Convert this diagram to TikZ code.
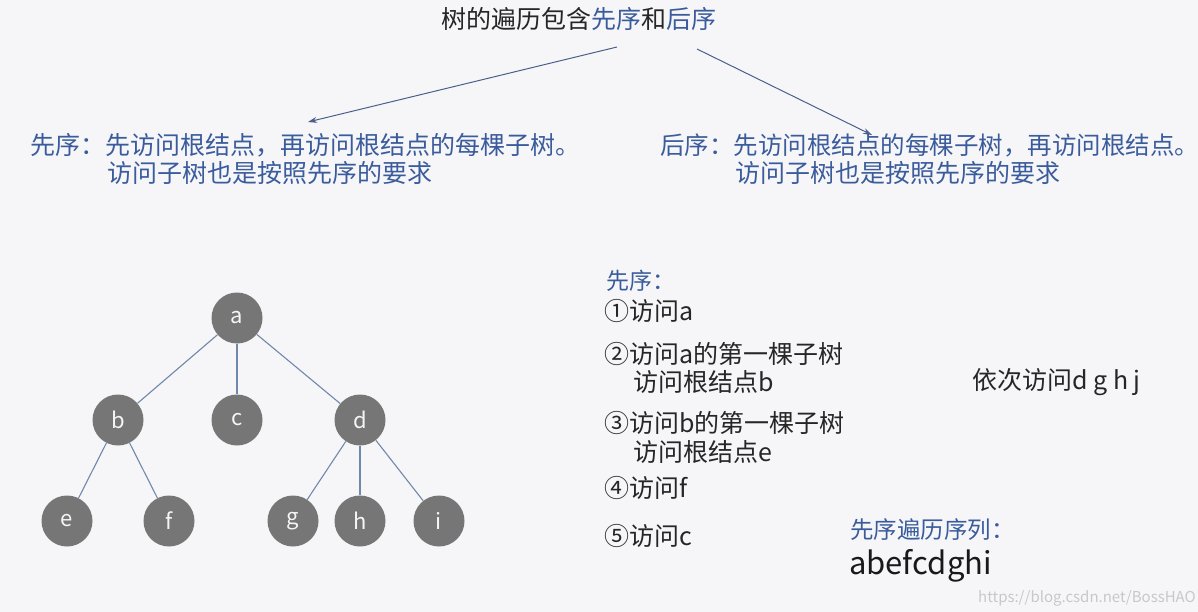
\documentclass[tikz,border=0pt]{standalone}
\usepackage{fontspec}
\setmainfont{Noto Sans CJK SC}
\usetikzlibrary{arrows.meta}
\definecolor{bg}{HTML}{F6F6F8}
\definecolor{tblue}{HTML}{3B5C9C}
\definecolor{arr}{HTML}{4A5F8C}
\definecolor{edge}{HTML}{7088AA}
\definecolor{nodegray}{HTML}{767676}
\definecolor{wm}{HTML}{C8C8CC}
\newcommand{\fs}[1]{\fontsize{#1}{#1}\selectfont}
\tikzset{
  txt/.style={anchor=west, inner sep=0pt, font=\fs{25}, text=black!85},
  bluetxt/.style={txt, text=tblue, font=\fs{25}},
  tnode/.style={circle, fill=nodegray, minimum size=51pt, inner sep=0pt, text=white!92!gray, font=\fs{22}},
  tedge/.style={draw=edge, line width=1.1pt},
  connector/.style={draw=arr, line width=1pt, -{Stealth[length=9pt,width=6pt]}}
}
\begin{document}
\begin{tikzpicture}[x=1pt,y=-1pt]
\fill[bg] (0,0) rectangle (1198,612);
\useasboundingbox (0,0) rectangle (1198,612);
% title
\node[txt, font=\fs{25}] (title) at (441,19) {树的遍历包含\textcolor{tblue}{先序}和\textcolor{tblue}{后序}};
\coordinate (t1) at (617,47);
\coordinate (t2) at (697,49);
\coordinate (l1) at (308,122);
\coordinate (r1) at (872,135);
\draw[connector] (t1) -- (l1);
\draw[connector] (t2) -- (r1);
% definitions
\node[bluetxt] (pre1) at (30,145) {先序：先访问根结点，再访问根结点的每棵子树。};
\node[bluetxt] (pre2) at (107,173) {访问子树也是按照先序的要求};
\node[bluetxt, font=\fs{24.5}] (post1) at (660,145) {后序：先访问根结点的每棵子树，再访问根结点。};
\node[bluetxt] (post2) at (735,173) {访问子树也是按照先序的要求};
% tree
\node[tnode] (a) at (237,318) {a};
\node[tnode] (b) at (118,420) {b};
\node[tnode] (c) at (237,420) {c};
\node[tnode] (d) at (360,420) {d};
\node[tnode] (e) at (67,521) {e};
\node[tnode] (f) at (169,521) {f};
\node[tnode] (g) at (293,521) {g};
\node[tnode] (h) at (360,521) {h};
\node[tnode] (i) at (439,521) {i};
\foreach \u/\v in {a/b,a/c,a/d,b/e,b/f,d/g,d/h,d/i}
  \draw[tedge] (\u) -- (\v);
% steps
\node[bluetxt, font=\fs{23}] (s0) at (606,281) {先序：};
\node[txt] (s1) at (604,311) {①访问a};
\node[txt] (s2) at (604,354) {②访问a的第一棵子树};
\node[txt] (s2b) at (633,382) {访问根结点b};
\node[txt] (s3) at (604,423) {③访问b的第一棵子树};
\node[txt] (s3b) at (633,452) {访问根结点e};
\node[txt] (s4) at (604,488) {④访问f};
\node[txt] (s5) at (604,536) {⑤访问c};
\node[txt] (seq) at (972,382) {依次访问d g h j};
\node[bluetxt, font=\fs{23.5}] (res) at (850,530) {先序遍历序列：};
\node[txt, font=\fs{31}, text=black!90] (ans) at (849,566) {abefcdghi};
\node[anchor=east, inner sep=0pt, font=\fs{15}, text=wm] (wmk) at (1196,598) {https://blog.csdn.net/BossHAO};
\end{tikzpicture}
\end{document}
